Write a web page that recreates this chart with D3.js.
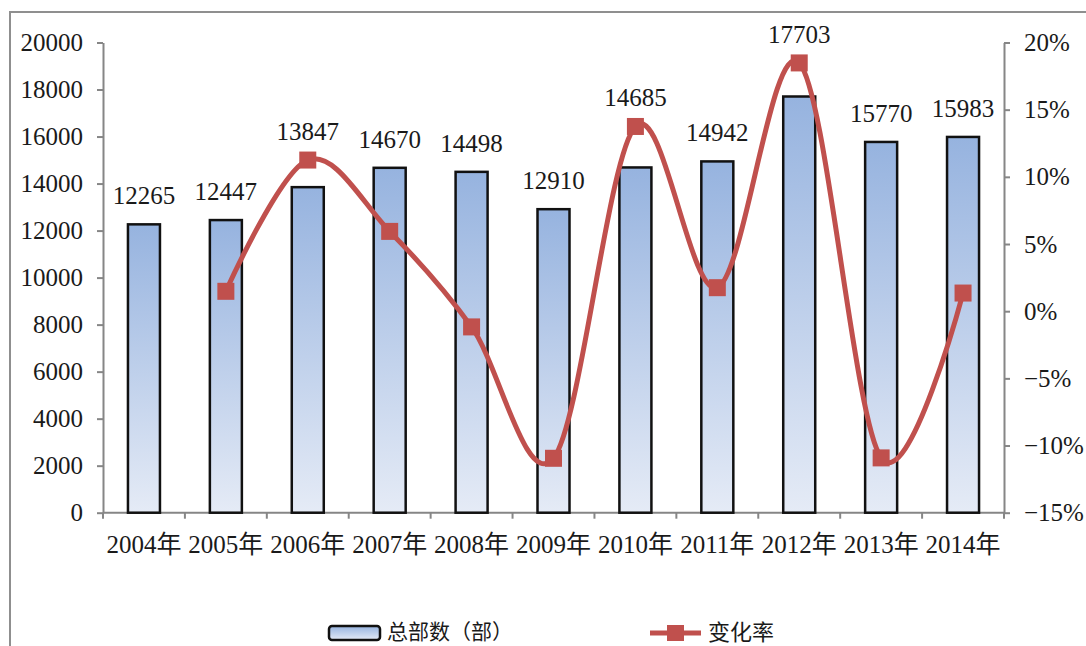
<!DOCTYPE html>
<html>
<head>
<meta charset="utf-8">
<script src="https://cdn.jsdelivr.net/npm/d3@7"></script>
<style>
  body { margin: 0; background: #fff; }
  text { fill: #1a1a1a; }
</style>
</head>
<body>
<svg id="chart" width="1086" height="646"></svg>
<script>
// Yearly totals (bars, left axis) and year-on-year change in percent (line, right axis)
const years = ["2004年", "2005年", "2006年", "2007年", "2008年", "2009年", "2010年", "2011年", "2012年", "2013年", "2014年"];
const totals = [12265, 12447, 13847, 14670, 14498, 12910, 14685, 14942, 17703, 15770, 15983];
const changeRates = [null, 1.48, 11.25, 5.94, -1.17, -10.95, 13.75, 1.75, 18.48, -10.92, 1.35];
const countTicks = [0, 2000, 4000, 6000, 8000, 10000, 12000, 14000, 16000, 18000, 20000];
const rateTicks = [-15, -10, -5, 0, 5, 10, 15, 20];
const barName = "总部数（部）";
const lineName = "变化率";

const svg = d3.select("#chart");
const serif = "'Liberation Serif', 'Times New Roman', 'Noto Sans CJK SC', serif";
const sans = "'Noto Sans CJK SC', 'Noto Sans', sans-serif";
const axisColor = "#868686";
const lineColor = "#C0504D";

const plot = { left: 103, right: 1004, top: 42.5, bottom: 512.7 };

const x = d3.scaleBand().domain(years).range([plot.left, plot.right]).padding(0);
const y = d3.scaleLinear().domain([0, 20000]).range([plot.bottom, plot.top]);
const yR = d3.scaleLinear().domain([-15, 20]).range([plot.bottom, plot.top]);

// Outer chart frame
svg.append("rect")
  .attr("x", 10).attr("y", 12).attr("width", 1200).attr("height", 800)
  .attr("fill", "none").attr("stroke", "#8f8f8f").attr("stroke-width", 2);

// Bar gradient (darker blue at the top of every bar)
const defs = svg.append("defs");
const grad = defs.append("linearGradient").attr("id", "barFill")
  .attr("x1", 0).attr("y1", 0).attr("x2", 0).attr("y2", 1);
grad.append("stop").attr("offset", "0%").attr("stop-color", "#96B3DF");
grad.append("stop").attr("offset", "100%").attr("stop-color", "#E5EBF6");

// Axes
const styleAxis = g => {
  g.select(".domain").attr("stroke", axisColor).attr("stroke-width", 2);
  g.selectAll(".tick line").attr("stroke", axisColor).attr("stroke-width", 2);
  g.selectAll("text").attr("font-family", serif).attr("font-size", 25).attr("fill", "#1a1a1a");
};

svg.append("g")
  .attr("transform", `translate(${plot.left},0)`)
  .call(d3.axisLeft(y).tickValues(countTicks).tickFormat(d3.format("d"))
    .tickSize(6).tickPadding(14).tickSizeOuter(0))
  .call(styleAxis);

svg.append("g")
  .attr("transform", `translate(${plot.right},0)`)
  .call(d3.axisRight(yR).tickValues(rateTicks).tickSize(6).tickPadding(14).tickSizeOuter(0)
    .tickFormat(d => (d < 0 ? "\u2212" + Math.abs(d) : d) + "%"))
  .call(styleAxis);

// Bottom axis with tick marks on category boundaries
const bottom = svg.append("g");
bottom.append("line")
  .attr("x1", plot.left).attr("x2", plot.right)
  .attr("y1", plot.bottom).attr("y2", plot.bottom)
  .attr("stroke", axisColor).attr("stroke-width", 2);
const boundaries = years.map(d => x(d)).concat([x(years[years.length - 1]) + x.bandwidth()]);
bottom.selectAll("line.tick").data(boundaries).join("line")
  .attr("class", "tick")
  .attr("x1", d => d).attr("x2", d => d)
  .attr("y1", plot.bottom).attr("y2", plot.bottom + 6)
  .attr("stroke", axisColor).attr("stroke-width", 2);
bottom.selectAll("text").data(years).join("text")
  .attr("x", d => x(d) + x.bandwidth() / 2)
  .attr("y", 553)
  .attr("text-anchor", "middle")
  .attr("font-family", serif).attr("font-size", 25)
  .text(d => d);

// Bars
const barW = 32;
svg.append("g").selectAll("rect").data(totals).join("rect")
  .attr("x", (d, i) => x(years[i]) + x.bandwidth() / 2 - barW / 2)
  .attr("y", d => y(d))
  .attr("width", barW)
  .attr("height", d => y(0) - y(d))
  .attr("fill", "url(#barFill)")
  .attr("stroke", "#111").attr("stroke-width", 2.5);

// Smoothed change-rate line with square markers
const pts = changeRates
  .map((v, i) => ({ v, i }))
  .filter(p => p.v !== null);
const cx = i => x(years[i]) + x.bandwidth() / 2;

svg.append("path")
  .datum(pts)
  .attr("d", d3.line().x(p => cx(p.i)).y(p => yR(p.v)).curve(d3.curveCatmullRom.alpha(0)))
  .attr("fill", "none").attr("stroke", lineColor).attr("stroke-width", 5)
  .attr("stroke-linejoin", "round");

const mk = 17;
svg.append("g").selectAll("rect").data(pts).join("rect")
  .attr("x", p => cx(p.i) - mk / 2)
  .attr("y", p => yR(p.v) - mk / 2)
  .attr("width", mk).attr("height", mk)
  .attr("fill", lineColor);

// Value labels above each bar, lifted clear of the line marker where needed
svg.append("g").selectAll("text").data(totals).join("text")
  .attr("x", (d, i) => cx(i))
  .attr("y", (d, i) => {
    const top = changeRates[i] === null ? y(d) : Math.min(y(d), yR(changeRates[i]));
    return top - 29;
  })
  .attr("dy", "0.35em")
  .attr("text-anchor", "middle")
  .attr("font-family", serif).attr("font-size", 25)
  .text(d => d);

// Legend
const legend = svg.append("g");
legend.append("rect")
  .attr("x", 329).attr("y", 626).attr("width", 51).attr("height", 14).attr("rx", 3)
  .attr("fill", "url(#barFill)").attr("stroke", "#111").attr("stroke-width", 2.5);
legend.append("text")
  .attr("x", 387).attr("y", 632).attr("dy", "0.35em")
  .attr("font-family", sans).attr("font-size", 21)
  .text(barName);
legend.append("line")
  .attr("x1", 650).attr("x2", 701).attr("y1", 633).attr("y2", 633)
  .attr("stroke", lineColor).attr("stroke-width", 5);
legend.append("rect")
  .attr("x", 667).attr("y", 625).attr("width", 17).attr("height", 16)
  .attr("fill", lineColor);
legend.append("text")
  .attr("x", 708).attr("y", 632).attr("dy", "0.35em")
  .attr("font-family", sans).attr("font-size", 22)
  .text(lineName);
</script>
</body>
</html>
